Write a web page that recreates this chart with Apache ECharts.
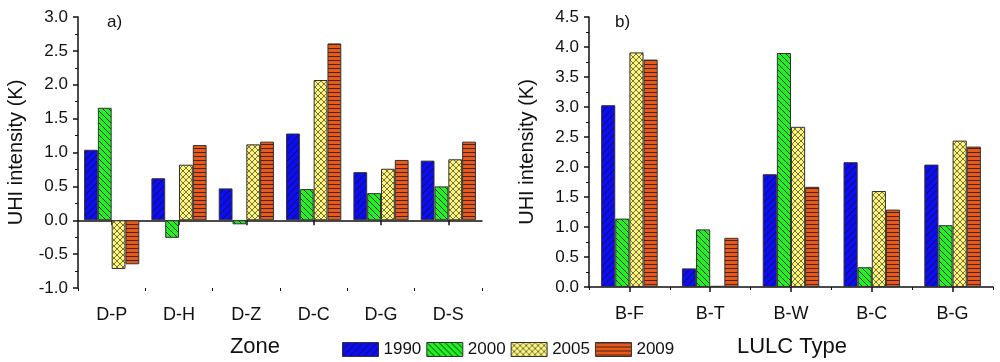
<!DOCTYPE html>
<html><head><meta charset="utf-8">
<script src="https://cdn.jsdelivr.net/npm/echarts@6/dist/echarts.min.js"></script>
<style>html,body{margin:0;padding:0;background:#fff}#c{width:1000px;height:362px}</style>
</head><body><div id="c"></div>
<script>
const years = ['1990','2000','2005','2009'];
const zones = ['D-P','D-H','D-Z','D-C','D-G','D-S'];
const zone1990 = [1.04, 0.62, 0.47, 1.28, 0.71, 0.88];
const zone2000 = [1.66, -0.26, -0.06, 0.46, 0.40, 0.50];
const zone2005 = [-0.72, 0.82, 1.12, 2.07, 0.76, 0.90];
const zone2009 = [-0.65, 1.11, 1.16, 2.61, 0.89, 1.16];
const lulc = ['B-F','B-T','B-W','B-C','B-G'];
const lulc1990 = [3.03, 0.31, 1.88, 2.08, 2.04];
const lulc2000 = [1.14, 0.96, 3.90, 0.33, 1.03];
const lulc2005 = [3.91, 0.02, 2.67, 1.60, 2.44];
const lulc2009 = [3.79, 0.82, 1.67, 1.29, 2.34];
const leftTicks = {min: -1, max: 3, interval: 0.5};
const rightTicks = {min: 0, max: 4.5, interval: 0.5};

function pat(bg, draw, size) {
  const s = size || 8;
  const c = document.createElement('canvas');
  c.width = s; c.height = s;
  const ctx = c.getContext('2d');
  ctx.fillStyle = bg; ctx.fillRect(0, 0, s, s);
  ctx.strokeStyle = 'rgba(20,20,20,0.85)'; ctx.lineWidth = 1;
  draw(ctx, s);
  return {image: c, repeat: 'repeat'};
}
function line(ctx, a, b, c2, d) { ctx.beginPath(); ctx.moveTo(a, b); ctx.lineTo(c2, d); ctx.stroke(); }
const fills = [
  pat('#0c0cf5', (ctx, s) => { line(ctx, -1, s + 1, s + 1, -1); line(ctx, -1, 1, 1, -1); line(ctx, s - 1, s + 1, s + 1, s - 1); }, 7),
  pat('#22f022', (ctx, s) => { line(ctx, -1, -1, s + 1, s + 1); line(ctx, s - 1, -1, s + 1, 1); line(ctx, -1, s - 1, 1, s + 1); }, 6),
  pat('#fdf47c', (ctx, s) => { ctx.strokeStyle = 'rgba(60,60,40,0.7)'; line(ctx, -1, s + 1, s + 1, -1); line(ctx, -1, -1, s + 1, s + 1); line(ctx, -1, 1, 1, -1); line(ctx, s - 1, s + 1, s + 1, s - 1); line(ctx, s - 1, -1, s + 1, 1); line(ctx, -1, s - 1, 1, s + 1); }, 6),
  pat('#e65a1c', (ctx, s) => { ctx.strokeStyle = 'rgba(60,30,20,0.9)'; line(ctx, 0, 0.5, s, 0.5); }, 4)
];

const font = 'Liberation Sans, Arial, sans-serif';
const axisLineStyle = {color: '#111', width: 1.5};
function yAxisCfg(grid, t) {
  return {
    type: 'value', gridIndex: grid, min: t.min, max: t.max, interval: t.interval,
    name: 'UHI intensity (K)', nameLocation: 'middle', nameGap: 52,
    nameTextStyle: {fontFamily: font, fontSize: 20, color: '#111'},
    axisLine: {show: true, lineStyle: axisLineStyle},
    axisTick: {show: true, inside: false, length: 5, lineStyle: {color: '#111', width: 1.5}},
    minorTick: {show: true, splitNumber: 2, length: 3, lineStyle: {color: '#111', width: 1}},
    splitLine: {show: false},
    axisLabel: {fontFamily: font, fontSize: 17, color: '#111', margin: 10, formatter: v => v.toFixed(1)}
  };
}
function xAxes(grid, cats) {
  return [
    {type: 'category', gridIndex: grid, data: cats, position: 'bottom',
     axisLine: {show: true, onZero: true, lineStyle: axisLineStyle},
     axisTick: {show: true, alignWithLabel: true, length: 5, lineStyle: {color: '#111', width: 1.5}},
     axisLabel: {show: false}},
    {type: 'category', gridIndex: grid, data: cats, position: 'bottom',
     axisLine: {show: false, onZero: true},
     axisTick: {show: true, length: 3, lineStyle: {color: '#111', width: 1}},
     axisLabel: {show: false}},
    {type: 'category', gridIndex: grid, data: cats, position: 'bottom',
     axisLine: {show: false, onZero: false},
     axisTick: {show: false},
     axisLabel: {fontFamily: font, fontSize: 18, color: '#111', margin: 18}}
  ];
}
const seriesA = [zone1990, zone2000, zone2005, zone2009];
const seriesB = [lulc1990, lulc2000, lulc2005, lulc2009];
const series = [];
seriesA.forEach((d, i) => series.push({
  type: 'bar', name: years[i], xAxisIndex: 0, yAxisIndex: 0, data: d,
  barGap: '0%', barCategoryGap: '18%',
  itemStyle: {color: fills[i], borderColor: '#333', borderWidth: 1}
}));
seriesB.forEach((d, i) => series.push({
  type: 'bar', name: years[i], xAxisIndex: 3, yAxisIndex: 1, data: d,
  barGap: '0%', barCategoryGap: '30%',
  itemStyle: {color: fills[i], borderColor: '#333', borderWidth: 1}
}));

const chart = echarts.init(document.getElementById('c'), null, {renderer: 'canvas'});
chart.setOption({
  animation: false,
  backgroundColor: '#fff',
  grid: [
    {left: 78, top: 17, width: 404, height: 271},
    {left: 589, top: 17, width: 404, height: 270}
  ],
  xAxis: [...xAxes(0, zones), ...xAxes(1, lulc)],
  yAxis: [yAxisCfg(0, leftTicks), yAxisCfg(1, rightTicks)],
  legend: {
    data: years, left: 337, top: 336, icon: 'rect', itemWidth: 36, itemHeight: 14, itemGap: 5,
    textStyle: {fontFamily: font, fontSize: 17, color: '#111'},
    itemStyle: {borderColor: '#333', borderWidth: 1}
  },
  graphic: [
    {type: 'text', left: 107, top: 14, style: {text: 'a)', font: '17px ' + font, fill: '#111'}},
    {type: 'text', left: 615, top: 14, style: {text: 'b)', font: '17px ' + font, fill: '#111'}},
    {type: 'text', x: 255, y: 347, style: {text: 'Zone', font: '22px ' + font, fill: '#111', textAlign: 'center', textVerticalAlign: 'middle'}},
    {type: 'text', x: 792, y: 347, style: {text: 'LULC Type', font: '22px ' + font, fill: '#111', textAlign: 'center', textVerticalAlign: 'middle'}}
  ],
  series: series
});
</script></body></html>
